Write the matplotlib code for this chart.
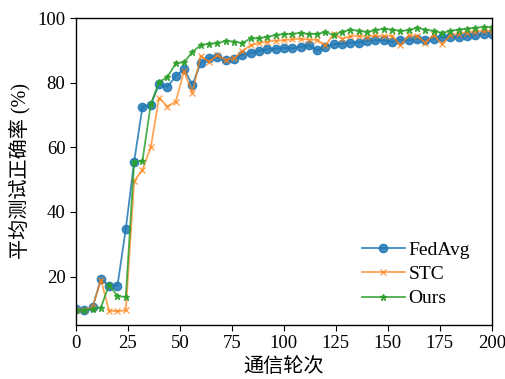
import matplotlib
matplotlib.use("Agg")
import matplotlib.pyplot as plt

# 通信轮次 (每4轮记录一次)
rounds = list(range(0, 201, 4))

fedavg = [9.8, 9.5, 10.5, 19.1, 17.2, 17.2, 34.8, 55.5, 72.5, 73.2,
          79.5, 78.7, 82.0, 84.2, 79.3, 86.0, 87.6, 87.8, 86.9, 87.3,
          88.6, 89.2, 89.8, 90.3, 90.5, 90.7, 90.6, 91.1, 91.5, 90.0,
          91.1, 91.9, 92.1, 92.4, 92.4, 93.0, 93.1, 93.1, 92.6, 93.3,
          93.1, 93.6, 93.3, 93.6, 94.0, 94.2, 94.0, 94.4, 94.7, 95.0,
          95.0]
stc = [9.5, 9.5, 10.5, 19.0, 9.4, 9.3, 9.5, 49.5, 53.0, 60.0,
       75.3, 72.6, 74.1, 83.5, 76.9, 88.3, 86.5, 88.5, 87.0, 87.5,
       89.8, 91.5, 92.3, 92.6, 93.0, 93.1, 93.4, 93.6, 93.3, 93.2,
       91.5, 95.2, 93.6, 94.3, 94.5, 94.2, 94.6, 94.3, 94.5, 91.5,
       94.6, 94.5, 92.4, 94.8, 91.9, 94.6, 95.2, 95.5, 95.8, 96.0,
       96.0]
ours = [9.5, 9.5, 10.0, 10.4, 17.5, 13.9, 13.7, 55.4, 55.8, 73.3,
        80.2, 81.7, 86.0, 86.3, 89.5, 91.6, 92.0, 92.2, 92.9, 92.7,
        92.2, 93.7, 93.7, 94.2, 94.7, 95.0, 95.1, 95.4, 95.0, 95.1,
        95.6, 94.8, 95.7, 96.4, 96.0, 95.7, 96.2, 96.7, 96.4, 96.0,
        96.2, 97.0, 96.4, 96.0, 95.4, 96.0, 96.4, 96.7, 97.0, 97.2,
        97.2]

plt.rcParams['font.family'] = ['Liberation Serif', 'Noto Sans CJK SC']
plt.rcParams['font.size'] = 13

fig = plt.figure(figsize=(5.06, 3.79), dpi=100)
ax = fig.add_axes([0.150, 0.1425, 0.822, 0.810])

ax.plot(rounds, fedavg, marker='o', markersize=6, linewidth=1.3,
        color='#1f77b4', alpha=0.85, label='FedAvg')
ax.plot(rounds, stc, marker='x', markersize=5, linewidth=1.3,
        color='#ff7f0e', alpha=0.7, label='STC')
ax.plot(rounds, ours, marker='*', markersize=5, linewidth=1.3,
        color='#2ca02c', alpha=0.85, label='Ours')

ax.set_xlim(0, 200)
ax.set_ylim(5, 100)
ax.set_xticks([0, 25, 50, 75, 100, 125, 150, 175, 200])
ax.set_yticks([20, 40, 60, 80, 100])
ax.tick_params(direction='out', length=4, labelsize=13.5)
for s in ax.spines.values():
    s.set_linewidth(1.0)

ax.set_xlabel('通信轮次', fontsize=14.5, labelpad=4)
ax.set_ylabel('平均测试正确率 (%)', fontsize=14.5, labelpad=5)

ax.legend(loc='lower right', frameon=False, fontsize=14, handlelength=2.2,
          handletextpad=0.2, labelspacing=0.35, borderaxespad=0.5,
          bbox_to_anchor=(0.99, 0.0))

fig.savefig('out.png', dpi=100)
